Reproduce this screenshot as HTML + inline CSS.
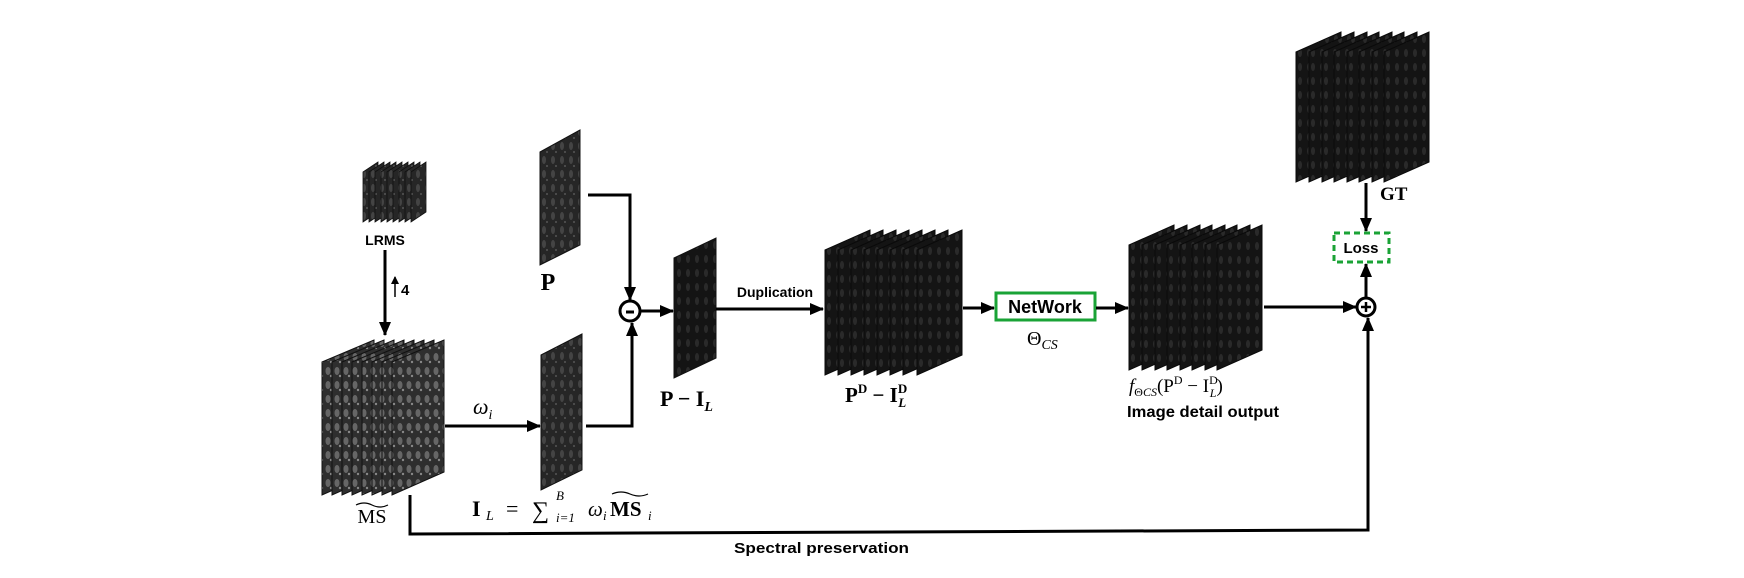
<!DOCTYPE html>
<html><head><meta charset="utf-8"><style>
body{margin:0;background:#fff}
svg{display:block}
text{font-family:"Liberation Sans",sans-serif}
.m{font-family:"Liberation Serif",serif}
</style></head><body>
<svg width="1744" height="578" viewBox="0 0 1744 578" xmlns="http://www.w3.org/2000/svg">
<defs>
<pattern id="tx" width="9" height="14" patternUnits="userSpaceOnUse">
<rect width="9" height="14" fill="#262626"/>
<ellipse cx="4" cy="6" rx="2" ry="4" fill="#444"/>
<circle cx="7" cy="12" r="1" fill="#555"/>
</pattern>
<pattern id="tx2" width="9" height="14" patternUnits="userSpaceOnUse">
<rect width="9" height="14" fill="#2e2e2e"/>
<ellipse cx="4" cy="7" rx="2.5" ry="4" fill="#666"/>
<circle cx="7" cy="12" r="1.2" fill="#888"/>
</pattern>
<pattern id="tx3" width="9" height="14" patternUnits="userSpaceOnUse">
<rect width="9" height="14" fill="#141414"/>
<ellipse cx="4" cy="7" rx="2" ry="4" fill="#2a2a2a"/>
</pattern>
<marker id="ah" markerWidth="8" markerHeight="8" refX="7" refY="4" orient="auto" markerUnits="userSpaceOnUse">
<path d="M0,0 L8,4 L0,8 z" fill="#000"/>
</marker>
<marker id="ah2" markerWidth="14" markerHeight="14" refX="13" refY="7" orient="auto" markerUnits="userSpaceOnUse">
<path d="M0,1 L14,7 L0,13 z" fill="#000"/>
</marker>
<polygon id="sl" points="0,20 45,0 45,125 0,145" stroke="#0a0a0a" stroke-width="1" fill="url(#tx3)"/>
<polygon id="slg" points="0,20 45,0 45,130 0,150" stroke="#0a0a0a" stroke-width="1" fill="url(#tx3)"/>
</defs>

<!-- LRMS stack -->
<g stroke="#111" stroke-width="0.8" fill="url(#tx)">
<polygon points="363,172 378,162 378,212 363,222"/>
<polygon points="369,172 384,162 384,212 369,222"/>
<polygon points="375,172 390,162 390,212 375,222"/>
<polygon points="381,172 396,162 396,212 381,222"/>
<polygon points="387,172 402,162 402,212 387,222"/>
<polygon points="393,172 408,162 408,212 393,222"/>
<polygon points="399,172 414,162 414,212 399,222"/>
<polygon points="405,172 420,162 420,212 405,222"/>
<polygon points="411,172 426,162 426,212 411,222"/>
</g>
<text x="385" y="245" font-size="14" font-weight="bold" text-anchor="middle">LRMS</text>
<line x1="385" y1="250" x2="385" y2="335" stroke="#000" stroke-width="3" marker-end="url(#ah2)"/>
<line x1="395" y1="297" x2="395" y2="277" stroke="#000" stroke-width="1.5" marker-end="url(#ah)"/>
<text x="401" y="295" font-size="15" font-weight="bold">4</text>

<!-- MS stack -->
<g stroke="#111" stroke-width="1" fill="url(#tx2)">
<polygon points="322,362 374,340 374,472 322,495"/>
<polygon points="332,362 384,340 384,472 332,495"/>
<polygon points="342,362 394,340 394,472 342,495"/>
<polygon points="352,362 404,340 404,472 352,495"/>
<polygon points="362,362 414,340 414,472 362,495"/>
<polygon points="372,362 424,340 424,472 372,495"/>
<polygon points="382,362 434,340 434,472 382,495"/>
<polygon points="392,362 444,340 444,472 392,495"/>
</g>
<text class="m" x="372" y="523" font-size="20" text-anchor="middle">MS</text>
<path d="M356,505 q8,-4 16,0 t16,0" stroke="#000" fill="none" stroke-width="1.2"/>

<!-- omega arrow -->
<text class="m" x="473" y="414" font-size="22" font-style="italic">ω<tspan font-size="14" dy="5">i</tspan></text>
<line x1="445" y1="426" x2="540" y2="426" stroke="#000" stroke-width="3" marker-end="url(#ah2)"/>

<!-- IL image -->
<polygon points="541,355 582,334 582,470 541,490" fill="url(#tx)" stroke="#111"/>
<g class="m">
<text class="m" x="472" y="516" font-size="22" font-weight="bold">I</text>
<text class="m" x="486" y="520" font-size="14" font-style="italic">L</text>
<text class="m" x="506" y="516" font-size="22">=</text>
<text class="m" x="532" y="518" font-size="24">∑</text>
<text class="m" x="556" y="500" font-size="13" font-style="italic">B</text>
<text class="m" x="556" y="522" font-size="13" font-style="italic">i=1</text>
<text class="m" x="588" y="516" font-size="21" font-style="italic">ω</text>
<text class="m" x="603" y="520" font-size="13" font-style="italic">i</text>
<text class="m" x="610" y="516" font-size="21" font-weight="bold">MS</text>
<text class="m" x="648" y="520" font-size="13" font-style="italic">i</text>
</g>
<path d="M612,494 q9,-4 18,0 t18,0" stroke="#000" fill="none" stroke-width="1.2"/>

<!-- P image -->
<polygon points="540,152 580,130 580,245 540,265" fill="url(#tx)" stroke="#111"/>
<text class="m" x="548" y="290" font-size="24" font-weight="bold" text-anchor="middle">P</text>

<!-- to minus -->
<polyline points="588,195 630,195 630,300" fill="none" stroke="#000" stroke-width="3" marker-end="url(#ah2)"/>
<polyline points="586,426 632,426 632,323" fill="none" stroke="#000" stroke-width="3" marker-end="url(#ah2)"/>
<circle cx="630" cy="311" r="10" fill="#fff" stroke="#000" stroke-width="3"/>
<line x1="626" y1="312" x2="634" y2="312" stroke="#000" stroke-width="3"/>
<line x1="641" y1="311" x2="673" y2="311" stroke="#000" stroke-width="3" marker-end="url(#ah2)"/>

<!-- P-IL -->
<polygon points="674,258 716,238 716,358 674,378" fill="url(#tx3)" stroke="#111"/>
<text class="m" x="660" y="406" font-size="22" font-weight="bold">P − I<tspan font-size="14" font-style="italic" dy="5">L</tspan></text>

<!-- duplication -->
<text x="775" y="297" font-size="14" font-weight="bold" text-anchor="middle">Duplication</text>
<line x1="716" y1="309" x2="823" y2="309" stroke="#000" stroke-width="3" marker-end="url(#ah2)"/>

<!-- PD stack -->
<g transform="translate(825,230)">
<use href="#sl" x="0"/><use href="#sl" x="13"/><use href="#sl" x="26"/><use href="#sl" x="39"/>
<use href="#sl" x="52"/><use href="#sl" x="65"/><use href="#sl" x="78"/><use href="#sl" x="92"/>
</g>
<text class="m" x="845" y="402" font-size="21" font-weight="bold">P<tspan font-size="13" dy="-9">D</tspan><tspan dy="9"> − I</tspan><tspan font-size="13" dy="-9">D</tspan><tspan font-size="13" font-style="italic" dx="-9" dy="14">L</tspan></text>

<line x1="963" y1="308" x2="994" y2="308" stroke="#000" stroke-width="3" marker-end="url(#ah2)"/>
<rect x="996" y="293" width="99" height="27" fill="#fff" stroke="#1aa336" stroke-width="3"/>
<text x="1045" y="313" font-size="18" font-weight="bold" text-anchor="middle">NetWork</text>
<text class="m" x="1027" y="345" font-size="20">Θ<tspan font-size="14" font-style="italic" dy="4">CS</tspan></text>
<line x1="1096" y1="308" x2="1128" y2="308" stroke="#000" stroke-width="3" marker-end="url(#ah2)"/>

<!-- output stack -->
<g transform="translate(1129,225)">
<use href="#sl" x="0"/><use href="#sl" x="13"/><use href="#sl" x="26"/><use href="#sl" x="38"/>
<use href="#sl" x="51"/><use href="#sl" x="63"/><use href="#sl" x="76"/><use href="#sl" x="88"/>
</g>
<text class="m" x="1129" y="392" font-size="19"><tspan font-style="italic">f</tspan><tspan font-size="12" dy="4">Θ</tspan><tspan font-size="12" font-style="italic">CS</tspan><tspan dy="-4">(P</tspan><tspan font-size="12" dy="-8">D</tspan><tspan dy="8"> − I</tspan><tspan font-size="12" dy="-8">D</tspan><tspan font-size="12" font-style="italic" dx="-8" dy="13">L</tspan><tspan dy="-5">)</tspan></text>
<text x="1127" y="417" font-size="16" font-weight="bold" textLength="152" lengthAdjust="spacingAndGlyphs">Image detail output</text>

<line x1="1264" y1="307" x2="1356" y2="307" stroke="#000" stroke-width="3" marker-end="url(#ah2)"/>
<circle cx="1366" cy="307" r="9" fill="#fff" stroke="#000" stroke-width="3"/>
<line x1="1361" y1="307" x2="1371" y2="307" stroke="#000" stroke-width="2.5"/>
<line x1="1366" y1="302" x2="1366" y2="312" stroke="#000" stroke-width="2.5"/>
<line x1="1366" y1="297" x2="1366" y2="264" stroke="#000" stroke-width="3" marker-end="url(#ah2)"/>

<!-- GT stack -->
<g transform="translate(1296,32)">
<use href="#slg" x="0"/><use href="#slg" x="13"/><use href="#slg" x="26"/><use href="#slg" x="38"/>
<use href="#slg" x="51"/><use href="#slg" x="63"/><use href="#slg" x="76"/><use href="#slg" x="88"/>
</g>
<text class="m" x="1380" y="200" font-size="19" font-weight="bold">GT</text>
<line x1="1366" y1="183" x2="1366" y2="231" stroke="#000" stroke-width="3" marker-end="url(#ah2)"/>
<rect x="1334" y="233" width="55" height="29" fill="#fff" stroke="#1aa336" stroke-width="3" stroke-dasharray="6,4"/>
<text x="1361" y="253" font-size="15" font-weight="bold" text-anchor="middle">Loss</text>

<!-- spectral preservation -->
<polyline points="410,495 410,534 1368,530 1368,318" fill="none" stroke="#000" stroke-width="3" marker-end="url(#ah2)"/>
<text x="734" y="553" font-size="15" font-weight="bold" textLength="175" lengthAdjust="spacingAndGlyphs">Spectral preservation</text>
</svg>
</body></html>
